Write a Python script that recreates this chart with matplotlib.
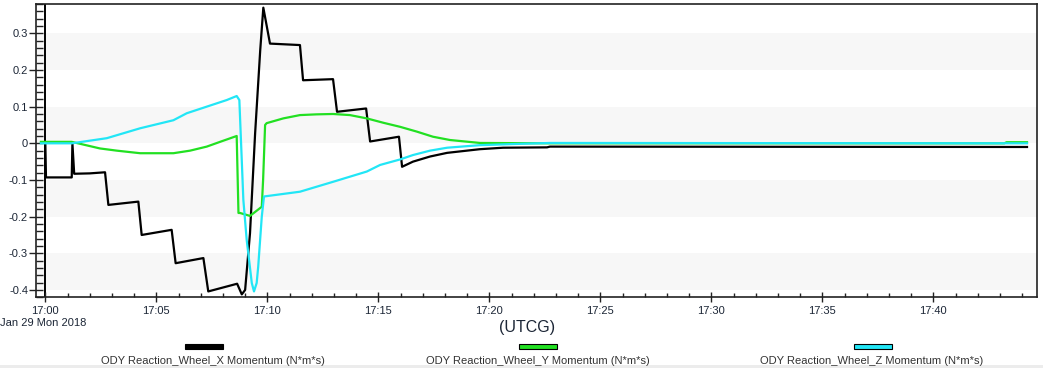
import matplotlib
matplotlib.use('Agg')
import matplotlib.pyplot as plt
from matplotlib.ticker import FixedLocator, MultipleLocator
from matplotlib.patches import Rectangle

plt.rcParams['font.family'] = ['Liberation Sans', 'DejaVu Sans']

# time in minutes after 17:00 UTCG (Jan 29 2018)
x_t = [0.0, 0.03, 1.19, 1.22, 1.30, 2.0, 2.69, 2.84, 4.19, 4.34, 5.69, 5.87,
       7.12, 7.34, 8.64, 8.85, 9.0, 9.22, 9.45, 9.68, 9.82, 10.12, 11.47, 11.61,
       12.96, 13.14, 14.45, 14.63, 15.93, 16.07, 16.56, 17.33, 18.1, 19.58,
       20.62, 22.6, 22.73, 44.22]
x_mom = [0.0, -0.093, -0.093, 0.0, -0.083, -0.082, -0.079, -0.168, -0.159,
         -0.25, -0.236, -0.327, -0.313, -0.404, -0.383, -0.412, -0.40, -0.245,
         0.027, 0.254, 0.37, 0.272, 0.268, 0.172, 0.175, 0.086, 0.095, 0.005,
         0.018, -0.064, -0.05, -0.036, -0.026, -0.016, -0.012, -0.011, -0.009,
         -0.01]

y_t = [-0.2, 1.19, 2.46, 3.22, 4.27, 5.77, 6.52, 7.27, 7.87, 8.62, 8.70, 8.77,
       9.22, 9.75, 9.81, 9.90, 9.97, 10.72, 11.47, 12.22, 12.96, 13.72, 14.48,
       15.23, 15.98, 16.73, 17.46, 18.23, 19.58, 22.73, 43.2, 43.3, 44.22]
y_mom = [0.004, 0.004, -0.014, -0.02, -0.027, -0.027, -0.02, -0.009, 0.004,
         0.02, -0.19, -0.19, -0.198, -0.173, -0.10, 0.05, 0.055, 0.068, 0.077,
         0.079, 0.08, 0.077, 0.068, 0.056, 0.045, 0.032, 0.018, 0.009, 0.001,
         0.0, 0.0, 0.003, 0.003]

z_t = [-0.2, 1.19, 2.77, 4.27, 5.77, 6.37, 7.27, 8.17, 8.62, 8.74, 8.92, 9.07,
       9.30, 9.40, 9.52, 9.59, 9.75, 9.85, 11.47, 12.96, 14.48, 15.08, 15.98,
       16.56, 17.33, 18.1, 19.58, 21.07, 22.74, 44.22]
z_mom = [0.0, 0.0, 0.014, 0.041, 0.063, 0.082, 0.1, 0.118, 0.129, 0.118,
         -0.154, -0.263, -0.381, -0.404, -0.381, -0.336, -0.2, -0.145, -0.132,
         -0.105, -0.077, -0.059, -0.044, -0.032, -0.02, -0.012, -0.005, -0.002,
         0.001, 0.0]

time_ticks = [0, 5, 10, 15, 20, 25, 30, 35, 40]
time_labels = ['17:00', '17:05', '17:10', '17:15', '17:20', '17:25', '17:30',
               '17:35', '17:40']
mom_ticks = [-0.4, -0.3, -0.2, -0.1, 0.0, 0.1, 0.2, 0.3]
mom_labels = ['-0.4', '-0.3', '-0.2', '-0.1', '0', '0.1', '0.2', '0.3']
bands = [(-0.4, -0.3), (-0.2, -0.1), (0.0, 0.1), (0.2, 0.3)]

names = ['ODY Reaction_Wheel_X Momentum (N*m*s)',
         'ODY Reaction_Wheel_Y Momentum (N*m*s)',
         'ODY Reaction_Wheel_Z Momentum (N*m*s)']
colors = ['#000000', '#22e022', '#22e6f6']

W, H = 1043, 368
fig = plt.figure(figsize=(W / 100, H / 100), dpi=100)
ax = fig.add_axes([36 / W, 1 - 297.3 / H, (1037 - 36) / W, (297.3 - 4) / H])
ax.set_xlim(-0.42, 44.67)
ax.set_ylim(-0.42, 0.38)

for lo, hi in bands:
    ax.axhspan(lo, hi, color='#f7f7f7', lw=0, zorder=0)
ax.axvline(0, color='#000000', lw=1.4, zorder=1)

for t, v, c in zip([x_t, y_t, z_t], [x_mom, y_mom, z_mom], colors):
    ax.plot(t, v, color=c, lw=1.6, zorder=3)

txt = '#1c2636'
ax.xaxis.set_major_locator(FixedLocator(time_ticks))
ax.set_xticklabels(time_labels)
ax.xaxis.set_minor_locator(MultipleLocator(1))
ax.yaxis.set_major_locator(FixedLocator(mom_ticks))
ax.set_yticklabels(mom_labels)
ax.yaxis.set_minor_locator(MultipleLocator(0.02))
ax.tick_params(axis='x', which='major', direction='inout', length=7.2,
               width=1, labelsize=8, pad=3, colors='#222222', labelcolor=txt)
ax.tick_params(axis='x', which='minor', direction='in', length=3, width=1,
               colors='#222222')
ax.tick_params(axis='y', which='major', direction='inout', length=9.4,
               width=1, labelsize=8, pad=1, colors='#222222', labelcolor=txt)
ax.tick_params(axis='y', which='minor', direction='in', length=5, width=1,
               colors='#222222')
for s in ax.spines.values():
    s.set_color('#222222')
    s.set_linewidth(1.2)

fig.text(0 / W, 1 - 323.5 / H, 'Jan 29 Mon 2018', fontsize=8, color=txt,
         ha='left', va='center')
fig.text(527 / W, 1 - 327.5 / H, '(UTCG)', fontsize=11.5, color=txt,
         ha='center', va='center')

# legend row
sw_centers = [204, 538, 873]
lab_centers = [213, 538, 872]
for sc, lc, c, n in zip(sw_centers, lab_centers, colors, names):
    fig.add_artist(Rectangle(((sc - 19) / W, 1 - 348.5 / H), 38 / W, 4.5 / H,
                             transform=fig.transFigure, facecolor=c,
                             edgecolor='#000000', lw=0.8))
    fig.text(lc / W, 1 - 360.5 / H, n, fontsize=8, color='#333333',
             ha='center', va='center')

fig.add_artist(Rectangle((0, 0), 1, 3 / H, transform=fig.transFigure,
                         facecolor='#ececec', lw=0))

fig.savefig('out.png', dpi=100)
